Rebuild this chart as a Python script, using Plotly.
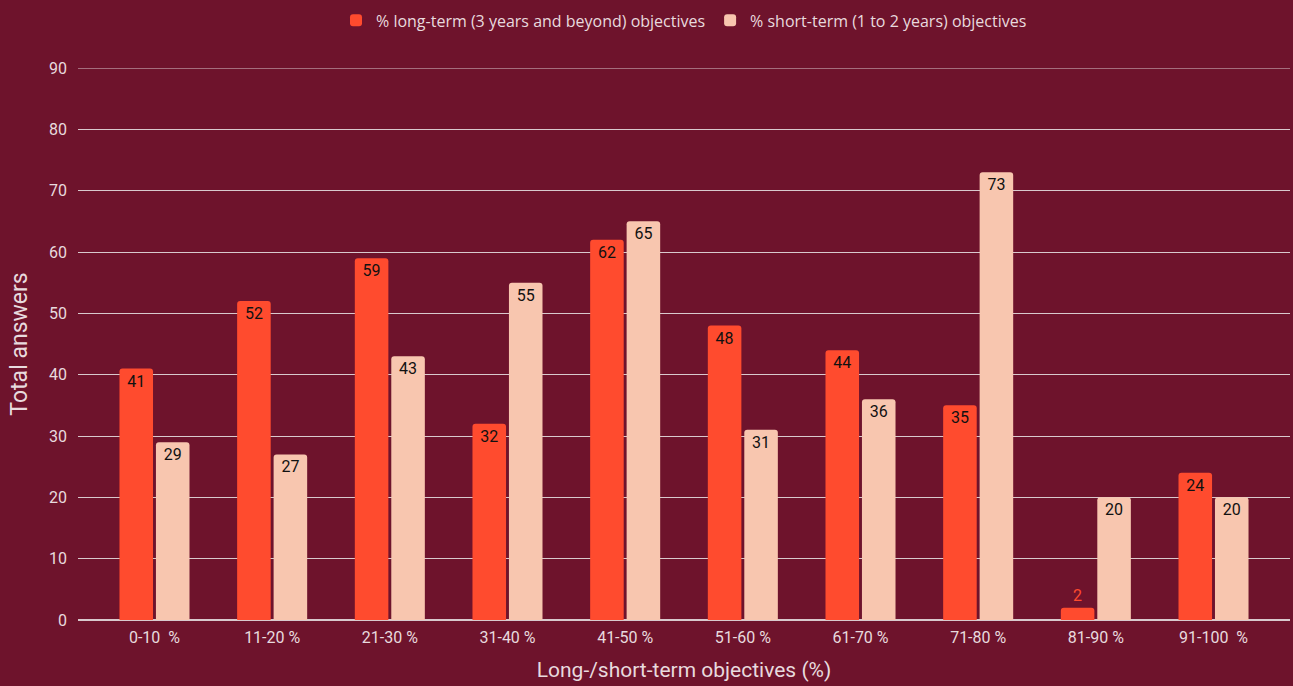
import plotly.graph_objects as go

categories = ["0-10  %", "11-20 %", "21-30 %", "31-40 %", "41-50 %",
              "51-60 %", "61-70 %", "71-80 %", "81-90 %", "91-100  %"]
long_term = [41, 52, 59, 32, 62, 48, 44, 35, 2, 24]
short_term = [29, 27, 43, 55, 65, 31, 36, 73, 20, 20]
y_ticks = [0, 10, 20, 30, 40, 50, 60, 70, 80, 90]

BG = "#6E132C"
RED = "#FF4B2E"
PEACH = "#F8C6AF"
GRID = "#D9C9CD"
TXT = "#E8DADE"


def label_style(values, bar_color):
    pos = ["outside" if v < 5 else "inside" for v in values]
    col = [bar_color if v < 5 else "#111111" for v in values]
    return pos, col


fig = go.Figure()
for name, vals, color in [
    ("% long-term (3 years and beyond) objectives", long_term, RED),
    ("% short-term (1 to 2 years) objectives", short_term, PEACH),
]:
    pos, col = label_style(vals, color)
    fig.add_trace(go.Bar(
        x=categories, y=vals, name=name,
        marker=dict(color=color, line=dict(width=0)),
        text=[str(v) for v in vals],
        textposition=pos,
        insidetextanchor="end",
        textangle=0,
        constraintext="none",
        textfont=dict(color=col, size=16, family="Roboto"),
        cliponaxis=False,
    ))

# top gridline sits on the edge of the plot area, so draw it explicitly
fig.add_shape(type="line", xref="paper", x0=0, x1=1, yref="y",
              y0=y_ticks[-1], y1=y_ticks[-1], line=dict(color=GRID, width=1),
              layer="below")

fig.update_layout(
    width=1293, height=686,
    paper_bgcolor=BG, plot_bgcolor=BG,
    margin=dict(l=78, r=3, t=68, b=66),
    barmode="group", bargap=0.38, bargroupgap=0.08,
    barcornerradius=3,
    font=dict(family="Roboto", color=TXT, size=16),
    legend=dict(orientation="h", x=0.5, xanchor="center", y=0.995, yanchor="top",
                yref="container", font=dict(family="Open Sans", size=16, color=TXT),
                itemwidth=30, bgcolor="rgba(0,0,0,0)"),
    showlegend=True,
)
fig.update_xaxes(
    range=[-0.65, 9.65], showgrid=False, showline=False, zeroline=False,
    tickfont=dict(size=16, color=TXT, family="Roboto"), ticks="", ticklabelstandoff=6,
    title=dict(text="Long-/short-term objectives (%)",
               font=dict(size=21, color=TXT, family="Roboto"), standoff=16),
)
fig.update_yaxes(
    range=[0, 90], tickvals=y_ticks, showgrid=True, gridcolor=GRID, gridwidth=1,
    zeroline=True, zerolinecolor=GRID, zerolinewidth=1.5,
    tickfont=dict(size=16, color=TXT, family="Roboto"), ticks="", ticklabelstandoff=10,
    title=dict(text="Total answers", font=dict(size=23, color=TXT, family="Roboto"),
               standoff=14),
)
fig.write_html("out.html")
